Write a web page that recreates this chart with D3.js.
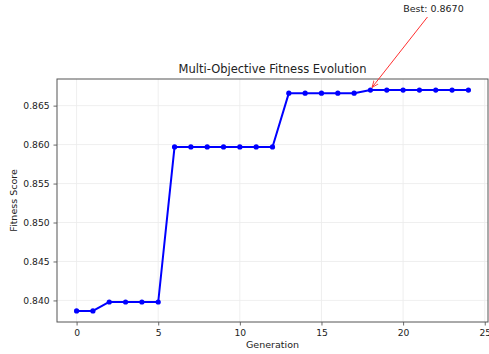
<!DOCTYPE html>
<html>
<head>
<meta charset="utf-8">
<script src="https://cdn.jsdelivr.net/npm/d3@7"></script>
<style>
  body { margin: 0; background: #fff; }
  text { font-family: 'DejaVu Sans', sans-serif; fill: #222; }
</style>
</head>
<body>
<div id="chart"></div>
<script>
let generations = d3.range(0, 25)
let fitness = [
	0.83865, 0.83865, 0.8398, 0.8398, 0.8398, 0.8398,
	0.8597, 0.8597, 0.8597, 0.8597, 0.8597, 0.8597, 0.8597,
	0.8666, 0.8666, 0.8666, 0.8666, 0.8666,
	0.867, 0.867, 0.867, 0.867, 0.867, 0.867, 0.867
]
let xTicks = [0, 5, 10, 15, 20, 25]
let yTicks = [0.840, 0.845, 0.850, 0.855, 0.860, 0.865]
let bestLabel = 'Best: 0.8670'
let bestGen = 18

let W = 489
let H = 354
let margin = { left: 57, right: 1, top: 79, bottom: 32 }

let svg = d3
	.select('#chart')
	.append('svg:svg')
	.attr('width', W)
	.attr('height', H)

// matplotlib style 5% margins around the data
let xPad = (24 - 0) * 0.05
let yMin = d3.min(fitness)
let yMax = d3.max(fitness)
let yPad = (yMax - yMin) * 0.05

let x = d3
	.scaleLinear()
	.domain([0 - xPad, 24 + xPad])
	.range([margin.left, W - margin.right])
let y = d3
	.scaleLinear()
	.domain([yMin - yPad, yMax + yPad])
	.range([H - margin.bottom, margin.top])

// grid
svg.append('g')
	.selectAll('line')
	.data(xTicks.filter(t => x(t) < W - margin.right - 1))
	.join('line')
	.attr('x1', d => x(d))
	.attr('x2', d => x(d))
	.attr('y1', margin.top)
	.attr('y2', H - margin.bottom)
	.attr('stroke', '#ebebeb')
	.attr('stroke-width', 0.8)
svg.append('g')
	.selectAll('line')
	.data(yTicks)
	.join('line')
	.attr('x1', margin.left)
	.attr('x2', W - margin.right)
	.attr('y1', d => y(d))
	.attr('y2', d => y(d))
	.attr('stroke', '#ebebeb')
	.attr('stroke-width', 0.8)

// axes
let xAxis = svg
	.append('g')
	.attr('transform', `translate(0,${H - margin.bottom})`)
	.call(d3.axisBottom(x).tickValues(xTicks).tickFormat(d3.format('d')).tickSize(3.5).tickSizeOuter(0))
let yAxis = svg
	.append('g')
	.attr('transform', `translate(${margin.left},0)`)
	.call(d3.axisLeft(y).tickValues(yTicks).tickFormat(d3.format('.3f')).tickSize(3.5).tickSizeOuter(0))

for (let ax of [xAxis, yAxis]) {
	ax.select('.domain').remove()
	ax.selectAll('.tick line').attr('stroke', '#444').attr('stroke-width', 0.8)
	ax.selectAll('.tick text').attr('font-size', 9.2).attr('fill', '#333').style('font-family', "'DejaVu Sans', sans-serif")
}
xAxis.selectAll('.tick text').attr('dy', '0.85em')
yAxis.selectAll('.tick text').attr('dx', '-0.1em')

// frame
svg.append('rect')
	.attr('x', margin.left)
	.attr('y', margin.top)
	.attr('width', W - margin.right - margin.left)
	.attr('height', H - margin.bottom - margin.top)
	.attr('fill', 'none')
	.attr('stroke', '#555')
	.attr('stroke-width', 1)

// series
let line = d3
	.line()
	.x((d, i) => x(generations[i]))
	.y(d => y(d))
svg.append('path')
	.datum(fitness)
	.attr('d', line)
	.attr('fill', 'none')
	.attr('stroke', '#0000ff')
	.attr('stroke-width', 2)
	.attr('stroke-linejoin', 'round')
svg.append('g')
	.selectAll('circle')
	.data(fitness)
	.join('circle')
	.attr('cx', (d, i) => x(generations[i]))
	.attr('cy', d => y(d))
	.attr('r', 2.6)
	.attr('fill', '#0000ff')

// titles
svg.append('text')
	.attr('x', (margin.left + W - margin.right) / 2)
	.attr('y', margin.top - 6)
	.attr('text-anchor', 'middle')
	.attr('font-size', 11.5)
	.text('Multi-Objective Fitness Evolution')
svg.append('text')
	.attr('x', (margin.left + W - margin.right) / 2)
	.attr('y', H - 6)
	.attr('text-anchor', 'middle')
	.attr('font-size', 9.5)
	.attr('fill', '#333')
	.text('Generation')
svg.append('text')
	.attr('transform', `translate(17,${(margin.top + H - margin.bottom) / 2}) rotate(-90)`)
	.attr('text-anchor', 'middle')
	.attr('font-size', 9.5)
	.attr('fill', '#333')
	.text('Fitness Score')

// annotation
let bx = x(bestGen)
let by = y(fitness[bestGen])
let tx = bx + 63
let ty = 12
svg.append('defs')
	.append('marker')
	.attr('id', 'head')
	.attr('viewBox', '0 0 10 10')
	.attr('refX', 10)
	.attr('refY', 5)
	.attr('markerWidth', 7)
	.attr('markerHeight', 7)
	.attr('markerUnits', 'userSpaceOnUse')
	.attr('orient', 'auto')
	.append('path')
	.attr('d', 'M0,1 L10,5 L0,9')
	.attr('fill', 'none')
	.attr('stroke', '#ff3030')
	.attr('stroke-width', 1.2)
svg.append('line')
	.attr('x1', bx + 57)
	.attr('y1', 17)
	.attr('x2', bx + 1.5)
	.attr('y2', by - 2.5)
	.attr('stroke', '#ff3030')
	.attr('stroke-width', 1)
	.attr('marker-end', 'url(#head)')
svg.append('text')
	.attr('x', tx)
	.attr('y', ty)
	.attr('text-anchor', 'middle')
	.attr('font-size', 9.5)
	.attr('fill', '#333')
	.text(bestLabel)
</script>
</body>
</html>
